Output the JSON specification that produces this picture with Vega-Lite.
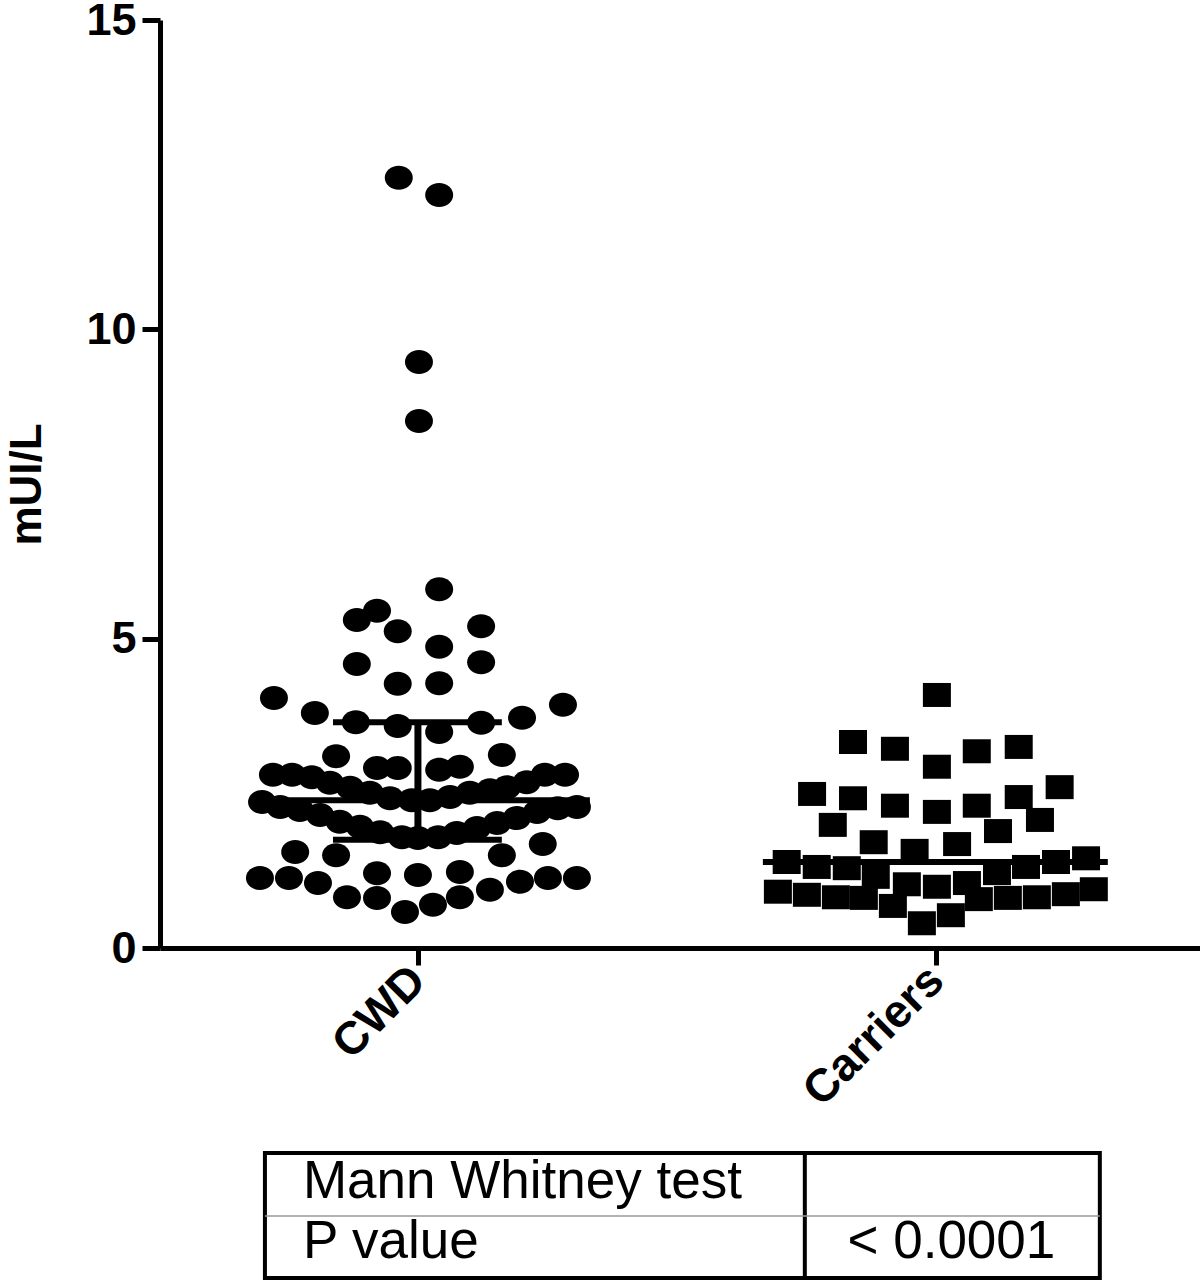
{
  "$schema": "https://vega.github.io/schema/vega-lite/v6.json",
  "width": 1040,
  "height": 928,
  "autosize": "none",
  "padding": {"left": 160, "top": 20, "right": 0, "bottom": 335},
  "background": "white",
  "config": {"view": {"stroke": null}, "font": "Liberation Sans"},
  "datasets": {
    "points": [
      {"group": "CWD", "x": 0.963, "y": 12.45}, {"group": "CWD", "x": 1.041, "y": 12.17},
      {"group": "CWD", "x": 1.002, "y": 9.47}, {"group": "CWD", "x": 1.002, "y": 8.52},
      {"group": "CWD", "x": 1.041, "y": 5.80}, {"group": "CWD", "x": 0.921, "y": 5.45},
      {"group": "CWD", "x": 0.882, "y": 5.30}, {"group": "CWD", "x": 0.961, "y": 5.12},
      {"group": "CWD", "x": 1.122, "y": 5.20}, {"group": "CWD", "x": 1.041, "y": 4.87},
      {"group": "CWD", "x": 0.882, "y": 4.59}, {"group": "CWD", "x": 1.122, "y": 4.62},
      {"group": "CWD", "x": 0.961, "y": 4.27}, {"group": "CWD", "x": 1.041, "y": 4.28},
      {"group": "CWD", "x": 0.722, "y": 4.04}, {"group": "CWD", "x": 1.280, "y": 3.93},
      {"group": "CWD", "x": 0.801, "y": 3.80}, {"group": "CWD", "x": 1.201, "y": 3.72},
      {"group": "CWD", "x": 0.880, "y": 3.65}, {"group": "CWD", "x": 0.961, "y": 3.59},
      {"group": "CWD", "x": 1.041, "y": 3.49}, {"group": "CWD", "x": 1.122, "y": 3.64},
      {"group": "CWD", "x": 0.842, "y": 3.10}, {"group": "CWD", "x": 1.162, "y": 3.12},
      {"group": "CWD", "x": 0.921, "y": 2.91}, {"group": "CWD", "x": 0.961, "y": 2.91},
      {"group": "CWD", "x": 1.041, "y": 2.88}, {"group": "CWD", "x": 1.081, "y": 2.93},
      {"group": "CWD", "x": 0.720, "y": 2.80}, {"group": "CWD", "x": 0.757, "y": 2.80},
      {"group": "CWD", "x": 0.795, "y": 2.76}, {"group": "CWD", "x": 0.830, "y": 2.67},
      {"group": "CWD", "x": 0.869, "y": 2.59}, {"group": "CWD", "x": 0.907, "y": 2.51},
      {"group": "CWD", "x": 0.946, "y": 2.42}, {"group": "CWD", "x": 0.988, "y": 2.39},
      {"group": "CWD", "x": 1.023, "y": 2.39}, {"group": "CWD", "x": 1.062, "y": 2.44},
      {"group": "CWD", "x": 1.100, "y": 2.51}, {"group": "CWD", "x": 1.139, "y": 2.55},
      {"group": "CWD", "x": 1.172, "y": 2.60}, {"group": "CWD", "x": 1.210, "y": 2.68},
      {"group": "CWD", "x": 1.245, "y": 2.80}, {"group": "CWD", "x": 1.284, "y": 2.80},
      {"group": "CWD", "x": 0.699, "y": 2.36}, {"group": "CWD", "x": 0.734, "y": 2.28},
      {"group": "CWD", "x": 0.772, "y": 2.23}, {"group": "CWD", "x": 0.811, "y": 2.15},
      {"group": "CWD", "x": 0.849, "y": 2.04}, {"group": "CWD", "x": 0.888, "y": 1.96},
      {"group": "CWD", "x": 0.927, "y": 1.87}, {"group": "CWD", "x": 0.969, "y": 1.79},
      {"group": "CWD", "x": 1.000, "y": 1.78}, {"group": "CWD", "x": 1.039, "y": 1.79},
      {"group": "CWD", "x": 1.075, "y": 1.86}, {"group": "CWD", "x": 1.114, "y": 1.94},
      {"group": "CWD", "x": 1.153, "y": 2.02}, {"group": "CWD", "x": 1.191, "y": 2.10},
      {"group": "CWD", "x": 1.230, "y": 2.20}, {"group": "CWD", "x": 1.270, "y": 2.26},
      {"group": "CWD", "x": 1.307, "y": 2.28}, {"group": "CWD", "x": 0.763, "y": 1.55},
      {"group": "CWD", "x": 0.842, "y": 1.50}, {"group": "CWD", "x": 1.162, "y": 1.50},
      {"group": "CWD", "x": 1.241, "y": 1.68}, {"group": "CWD", "x": 0.695, "y": 1.13},
      {"group": "CWD", "x": 0.751, "y": 1.13}, {"group": "CWD", "x": 0.807, "y": 1.05},
      {"group": "CWD", "x": 0.863, "y": 0.82}, {"group": "CWD", "x": 0.921, "y": 1.21},
      {"group": "CWD", "x": 0.921, "y": 0.81}, {"group": "CWD", "x": 0.975, "y": 0.58},
      {"group": "CWD", "x": 1.000, "y": 1.18}, {"group": "CWD", "x": 1.029, "y": 0.70},
      {"group": "CWD", "x": 1.081, "y": 1.23}, {"group": "CWD", "x": 1.081, "y": 0.82},
      {"group": "CWD", "x": 1.139, "y": 0.94}, {"group": "CWD", "x": 1.197, "y": 1.07},
      {"group": "CWD", "x": 1.251, "y": 1.13}, {"group": "CWD", "x": 1.307, "y": 1.13},
      {"group": "Carriers", "x": 2.002, "y": 4.09}, {"group": "Carriers", "x": 1.840, "y": 3.33},
      {"group": "Carriers", "x": 1.921, "y": 3.22}, {"group": "Carriers", "x": 2.002, "y": 2.93},
      {"group": "Carriers", "x": 2.079, "y": 3.18}, {"group": "Carriers", "x": 2.160, "y": 3.25},
      {"group": "Carriers", "x": 1.761, "y": 2.49}, {"group": "Carriers", "x": 1.840, "y": 2.42},
      {"group": "Carriers", "x": 1.921, "y": 2.30}, {"group": "Carriers", "x": 2.002, "y": 2.20},
      {"group": "Carriers", "x": 2.079, "y": 2.30}, {"group": "Carriers", "x": 2.160, "y": 2.44},
      {"group": "Carriers", "x": 2.239, "y": 2.60}, {"group": "Carriers", "x": 1.801, "y": 1.99},
      {"group": "Carriers", "x": 2.120, "y": 1.89}, {"group": "Carriers", "x": 2.201, "y": 2.07},
      {"group": "Carriers", "x": 1.880, "y": 1.71}, {"group": "Carriers", "x": 1.959, "y": 1.57},
      {"group": "Carriers", "x": 2.041, "y": 1.68}, {"group": "Carriers", "x": 1.712, "y": 1.39},
      {"group": "Carriers", "x": 1.770, "y": 1.31}, {"group": "Carriers", "x": 1.828, "y": 1.29},
      {"group": "Carriers", "x": 2.174, "y": 1.31}, {"group": "Carriers", "x": 2.232, "y": 1.39},
      {"group": "Carriers", "x": 2.290, "y": 1.45}, {"group": "Carriers", "x": 1.884, "y": 1.15},
      {"group": "Carriers", "x": 1.944, "y": 1.03}, {"group": "Carriers", "x": 2.002, "y": 0.99},
      {"group": "Carriers", "x": 2.060, "y": 1.05}, {"group": "Carriers", "x": 2.118, "y": 1.21},
      {"group": "Carriers", "x": 1.695, "y": 0.91}, {"group": "Carriers", "x": 1.751, "y": 0.86},
      {"group": "Carriers", "x": 1.807, "y": 0.82}, {"group": "Carriers", "x": 1.861, "y": 0.81},
      {"group": "Carriers", "x": 1.917, "y": 0.68}, {"group": "Carriers", "x": 1.973, "y": 0.40},
      {"group": "Carriers", "x": 2.029, "y": 0.53}, {"group": "Carriers", "x": 2.083, "y": 0.79},
      {"group": "Carriers", "x": 2.139, "y": 0.81}, {"group": "Carriers", "x": 2.195, "y": 0.82},
      {"group": "Carriers", "x": 2.251, "y": 0.87}, {"group": "Carriers", "x": 2.305, "y": 0.95}
    ],
    "hbars": [
      {"stat": "median", "x": 0.676, "x2": 1.332, "y": 2.39},
      {"stat": "q3", "x": 0.836, "x2": 1.162, "y": 3.65},
      {"stat": "q1", "x": 0.836, "x2": 1.162, "y": 1.75},
      {"stat": "median", "x": 1.666, "x2": 2.332, "y": 1.39}
    ],
    "vbars": [
      {"x": 1.0, "y": 1.75, "y2": 3.65}
    ],
    "tablebox": [
      {"x": 0.7046, "x2": 2.3166, "y": -3.313, "y2": -5.334}
    ],
    "tablecol": [
      {"x": 1.747, "y": -3.313, "y2": -5.334}
    ],
    "tablerow": [
      {"x": 0.7046, "x2": 2.3166, "y": -4.332}
    ],
    "tabletext": [
      {"x": 0.778, "y": -4.041, "label": "Mann Whitney test"},
      {"x": 0.778, "y": -5.011, "label": "P value"}
    ],
    "tablevalue": [
      {"x": 2.03, "y": -5.011, "label": "< 0.0001"}
    ]
  },
  "encoding": {
    "x": {
      "field": "x",
      "type": "quantitative",
      "scale": {"domain": [0.502, 2.51], "nice": false, "zero": false},
      "axis": {
        "title": null,
        "values": [1, 2],
        "labelExpr": "datum.value == 1 ? 'CWD' : 'Carriers'",
        "labelAngle": -45,
        "labelAlign": "right",
        "labelBaseline": "middle",
        "labelFontSize": 46,
        "labelFontWeight": "bold",
        "labelColor": "black",
        "labelPadding": 8,
        "labelFlush": false,
        "labelOverlap": false,
        "domainColor": "black",
        "domainWidth": 5,
        "tickColor": "black",
        "tickWidth": 5,
        "tickSize": 17,
        "grid": false
      }
    },
    "y": {
      "field": "y",
      "type": "quantitative",
      "scale": {"domain": [0, 15], "nice": false, "zero": false},
      "axis": {
        "title": "mUI/L",
        "titleFontSize": 44,
        "titleFontWeight": "bold",
        "titleColor": "black",
        "titlePadding": 36,
        "values": [0, 5, 10, 15],
        "labelFontSize": 45,
        "labelFontWeight": "bold",
        "labelColor": "black",
        "labelPadding": 6,
        "labelFlush": false,
        "domainColor": "black",
        "domainWidth": 5,
        "tickColor": "black",
        "tickWidth": 5,
        "tickSize": 18,
        "grid": false
      }
    }
  },
  "layer": [
    {
      "data": {"name": "points"},
      "mark": {"type": "point", "filled": true, "opacity": 1, "size": 784, "color": "black", "strokeWidth": 0},
      "encoding": {
        "shape": {
          "field": "group",
          "type": "nominal",
          "scale": {
            "domain": ["CWD", "Carriers"],
            "range": ["M-1,0A1,0.857,0,1,0,1,0A1,0.857,0,1,0,-1,0Z", "M-1,-0.857L1,-0.857L1,0.857L-1,0.857Z"]
          },
          "legend": null
        }
      }
    },
    {
      "data": {"name": "hbars"},
      "mark": {"type": "rule", "color": "black", "strokeWidth": 6},
      "encoding": {"x2": {"field": "x2"}}
    },
    {
      "data": {"name": "vbars"},
      "mark": {"type": "rule", "color": "black", "strokeWidth": 7},
      "encoding": {"y2": {"field": "y2"}}
    },
    {
      "data": {"name": "tablebox"},
      "mark": {"type": "rect", "fill": null, "fillOpacity": 0, "stroke": "black", "strokeWidth": 4},
      "encoding": {"x2": {"field": "x2"}, "y2": {"field": "y2"}}
    },
    {
      "data": {"name": "tablecol"},
      "mark": {"type": "rule", "color": "black", "strokeWidth": 4},
      "encoding": {"y2": {"field": "y2"}}
    },
    {
      "data": {"name": "tablerow"},
      "mark": {"type": "rule", "color": "#9a9a9a", "strokeWidth": 1.5},
      "encoding": {"x2": {"field": "x2"}}
    },
    {
      "data": {"name": "tabletext"},
      "mark": {"type": "text", "align": "left", "baseline": "alphabetic", "fontSize": 53, "color": "black"},
      "encoding": {"text": {"field": "label"}}
    },
    {
      "data": {"name": "tablevalue"},
      "mark": {"type": "text", "align": "center", "baseline": "alphabetic", "fontSize": 53, "color": "black"},
      "encoding": {"text": {"field": "label"}}
    }
  ]
}
